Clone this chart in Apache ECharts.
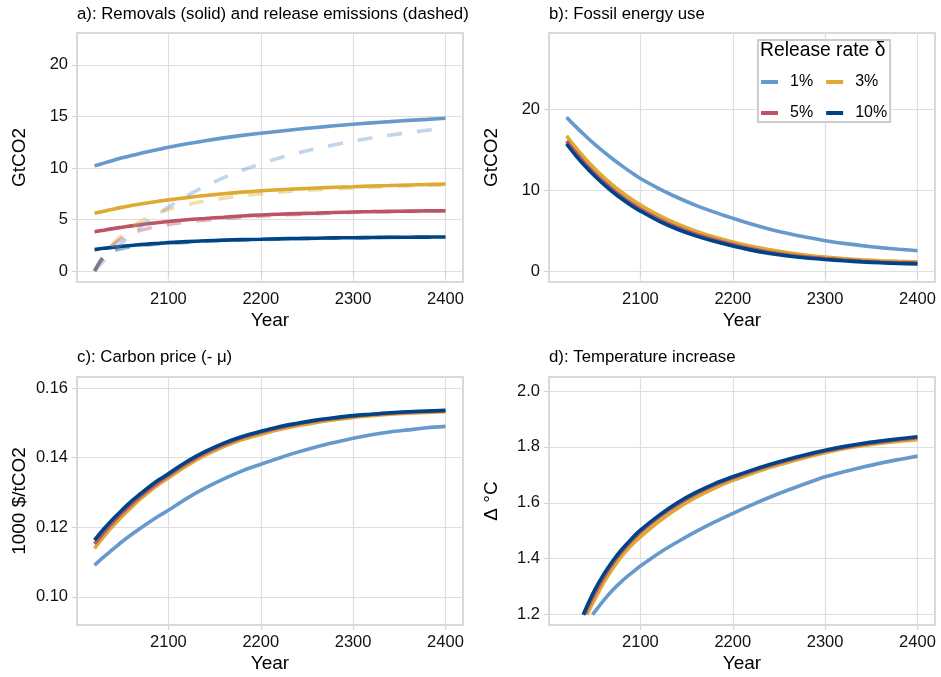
<!DOCTYPE html>
<html><head><meta charset="utf-8">
<script src="https://cdn.jsdelivr.net/npm/echarts@6/dist/echarts.min.js"></script>
<style>html,body{margin:0;padding:0;background:#fff}#c{width:941px;height:677px}</style>
</head><body><div id="c"></div>
<script>
// ---------- data ----------
const rates = ['1%', '3%', '5%', '10%'];
const years = [2020,2030,2040,2050,2060,2070,2080,2090,2100,2120,2140,2160,2180,2200,2220,2240,2260,2280,2300,2320,2340,2360,2380,2400];
const xTickValues = [2100, 2200, 2300, 2400];

// a) removals (solid) and release emissions (dashed), GtCO2
const removals1  = [10.2,10.47,10.73,10.98,11.21,11.42,11.62,11.81,12.0,12.34,12.65,12.92,13.16,13.37,13.57,13.76,13.93,14.09,14.24,14.38,14.5,14.62,14.72,14.82];
const removals3  = [5.6,5.8,6.0,6.18,6.35,6.5,6.65,6.78,6.9,7.12,7.32,7.5,7.65,7.78,7.88,7.97,8.05,8.12,8.18,8.25,8.3,8.35,8.4,8.45];
const removals5  = [3.8,3.96,4.11,4.25,4.38,4.5,4.61,4.71,4.8,4.97,5.1,5.22,5.34,5.44,5.51,5.57,5.62,5.68,5.73,5.76,5.79,5.81,5.83,5.85];
const removals10 = [2.07,2.2,2.3,2.4,2.48,2.56,2.63,2.69,2.75,2.85,2.93,2.99,3.04,3.08,3.12,3.15,3.18,3.21,3.23,3.25,3.27,3.28,3.29,3.3];
const release1  = [0,0.98,1.90,2.75,3.54,4.28,4.96,5.60,6.20,7.29,8.23,9.06,9.78,10.41,10.96,11.45,11.87,12.25,12.6,12.9,13.18,13.43,13.66,13.86];
const release3  = [0,1.48,2.62,3.52,4.24,4.81,5.27,5.65,5.96,6.43,6.79,7.07,7.30,7.49,7.64,7.77,7.88,7.98,8.06,8.13,8.2,8.26,8.31,8.36];
const release5  = [0,1.53,2.51,3.17,3.62,3.94,4.18,4.37,4.52,4.75,4.93,5.07,5.2,5.32,5.42,5.49,5.56,5.61,5.67,5.72,5.75,5.78,5.8,5.83];
const release10 = [0,1.35,1.92,2.19,2.35,2.46,2.54,2.62,2.68,2.78,2.88,2.95,3.01,3.05,3.09,3.13,3.16,3.19,3.22,3.24,3.26,3.27,3.28,3.29];
const yTicksA = [0, 5, 10, 15, 20];

// b) fossil energy use, GtCO2
const fossil1  = [19.0,17.84,16.75,15.72,14.76,13.86,13.01,12.21,11.45,10.21,9.12,8.16,7.32,6.57,5.86,5.23,4.69,4.22,3.81,3.48,3.2,2.96,2.76,2.58];
const fossil3  = [16.7,15.25,13.93,12.73,11.64,10.65,9.75,8.94,8.2,6.92,5.86,4.99,4.27,3.65,3.12,2.68,2.33,2.03,1.79,1.6,1.45,1.34,1.27,1.22];
const fossil5  = [16.05,14.63,13.31,12.13,11.07,10.09,9.22,8.42,7.71,6.47,5.44,4.61,3.92,3.33,2.81,2.39,2.06,1.8,1.6,1.43,1.29,1.18,1.1,1.05];
const fossil10 = [15.7,14.28,12.99,11.82,10.76,9.8,8.94,8.15,7.45,6.22,5.22,4.4,3.73,3.15,2.65,2.24,1.92,1.68,1.5,1.34,1.2,1.09,1.01,0.95];
const yTicksB = [0, 10, 20];

// c) carbon price, 1000 $/tCO2
const price1  = [0.1091,0.1115,0.1137,0.1159,0.1179,0.1198,0.1216,0.1233,0.1249,0.1283,0.1313,0.1339,0.1362,0.1381,0.1399,0.1416,0.1431,0.1444,0.1456,0.1466,0.1474,0.1480,0.1486,0.1490];
const price3  = [0.1139,0.1173,0.1204,0.1232,0.1258,0.1282,0.1304,0.1324,0.1342,0.1377,0.1407,0.1432,0.1452,0.1467,0.1481,0.1492,0.1501,0.1509,0.1516,0.1521,0.1525,0.1528,0.1530,0.1532];
const price5  = [0.1152,0.1185,0.1215,0.1242,0.1267,0.1290,0.1311,0.1331,0.1349,0.1384,0.1414,0.1438,0.1458,0.1473,0.1486,0.1497,0.1506,0.1513,0.1519,0.1524,0.1528,0.1531,0.1533,0.1535];
const price10 = [0.1163,0.1195,0.1224,0.1250,0.1275,0.1297,0.1318,0.1337,0.1354,0.1389,0.1418,0.1442,0.1461,0.1476,0.1489,0.1499,0.1508,0.1515,0.1521,0.1525,0.1529,0.1532,0.1534,0.1536];
const yTicksC = [0.10, 0.12, 0.14, 0.16];

// d) temperature increase, °C (curves enter the panel at 1.2 °C)
const tempYears = [2050,2060,2070,2080,2090,2100,2120,2140,2160,2180,2200,2220,2240,2260,2280,2300,2320,2340,2360,2380,2400];
const tempStartYear = [2048, 2042, 2039.5, 2038];
const tempStartValue = [1.2, 1.2, 1.2, 1.2];
const temp1  = [1.208,1.25,1.288,1.32,1.348,1.374,1.42,1.46,1.497,1.531,1.562,1.592,1.62,1.646,1.67,1.693,1.711,1.727,1.742,1.755,1.767];
const temp3  = [1.252,1.313,1.365,1.41,1.447,1.478,1.533,1.58,1.619,1.652,1.680,1.704,1.726,1.745,1.763,1.779,1.793,1.804,1.813,1.82,1.826];
const temp5  = [1.272,1.332,1.383,1.426,1.463,1.495,1.549,1.594,1.632,1.663,1.689,1.712,1.733,1.752,1.769,1.785,1.798,1.809,1.818,1.826,1.833];
const temp10 = [1.285,1.343,1.392,1.434,1.470,1.502,1.555,1.600,1.637,1.668,1.693,1.716,1.737,1.756,1.773,1.788,1.801,1.812,1.821,1.829,1.836];
const yTicksD = [1.2, 1.4, 1.6, 1.8, 2.0];

// ---------- style ----------
const colors = ['#6699CC', '#DDAA33', '#BB5566', '#004488'];
const FONT = "'Liberation Sans', Arial, Helvetica, sans-serif";
const GRID_COLOR = '#dedede';
const TXT = '#111111';

const removals = [removals1, removals3, removals5, removals10];
const releases = [release1, release3, release5, release10];
const fossil = [fossil1, fossil3, fossil5, fossil10];
const price = [price1, price3, price5, price10];
const temp = [temp1, temp3, temp5, temp10];

const grids = [
  {left: 77, top: 33, width: 386, height: 249},
  {left: 549, top: 33, width: 386, height: 249},
  {left: 77, top: 377, width: 386, height: 248},
  {left: 549, top: 377, width: 386, height: 248}
].map(g => Object.assign(g, {show: true, borderColor: '#d9d9d9', borderWidth: 2, backgroundColor: 'transparent', containLabel: false}));

function xAxis(i) {
  return {
    type: 'value', gridIndex: i, min: 2001, max: 2419, minInterval: 100, maxInterval: 100,
    name: 'Year', nameLocation: 'middle', nameGap: 29,
    nameTextStyle: {fontSize: 19, color: '#000', fontFamily: FONT},
    axisLine: {show: false},
    axisTick: {show: true, length: 5, lineStyle: {color: '#d4d4d4', width: 1.2}, customValues: xTickValues},
    axisLabel: {fontSize: 16.5, color: TXT, fontFamily: FONT, margin: 9, customValues: xTickValues,
      formatter: v => String(v)},
    splitLine: {show: true, lineStyle: {color: GRID_COLOR, width: 1.2}}
  };
}
function yAxis(i, min, max, step, ticks, name, dec) {
  return {
    type: 'value', gridIndex: i, min: min, max: max, minInterval: step, maxInterval: step,
    name: name, nameLocation: 'middle', nameGap: 48,
    nameTextStyle: {fontSize: 19, color: '#000', fontFamily: FONT},
    axisLine: {show: false},
    axisTick: {show: true, length: 5, lineStyle: {color: '#d4d4d4', width: 1.2}, customValues: ticks},
    axisLabel: {fontSize: 16.5, color: TXT, fontFamily: FONT, margin: 9, customValues: ticks,
      formatter: v => dec == null ? String(Math.round(v)) : Number(v).toFixed(dec)},
    splitLine: {show: true, lineStyle: {color: GRID_COLOR, width: 1.2}}
  };
}

const series = [];
function lineSeries(i, name, color, data, dashed) {
  return {
    type: 'line', name: name, xAxisIndex: i, yAxisIndex: i, data: data,
    showSymbol: false, symbol: 'none', smooth: 0.35,
    color: color, animation: false, silent: true,
    lineStyle: {color: color, width: 3.6, opacity: dashed ? 0.4 : 1, type: dashed ? [15, 15] : 'solid', cap: 'butt'},
    z: dashed ? 3 : 2
  };
}
rates.forEach((r, k) => series.push(lineSeries(0, r, colors[k], years.map((y, j) => [y, removals[k][j]]), false)));
rates.forEach((r, k) => series.push(lineSeries(0, r, colors[k], years.map((y, j) => [y, releases[k][j]]), true)));
rates.forEach((r, k) => series.push(lineSeries(1, r, colors[k], years.map((y, j) => [y, fossil[k][j]]), false)));
rates.forEach((r, k) => series.push(lineSeries(2, r, colors[k], years.map((y, j) => [y, price[k][j]]), false)));
rates.forEach((r, k) => series.push(lineSeries(3, r, colors[k],
  [[tempStartYear[k], tempStartValue[k]]].concat(tempYears.map((y, j) => [y, temp[k][j]])), false)));

const titleStyle = {fontSize: 16.8, fontWeight: 'normal', color: '#000', fontFamily: FONT};
const option = {
  backgroundColor: '#ffffff',
  animation: false,
  textStyle: {fontFamily: FONT},
  title: [
    {text: 'a): Removals (solid) and release emissions (dashed)', left: 77, top: 6, padding: 0, textStyle: titleStyle},
    {text: 'b): Fossil energy use', left: 549, top: 6, padding: 0, textStyle: titleStyle},
    {text: 'c): Carbon price (- μ)', left: 77, top: 349, padding: 0, textStyle: titleStyle},
    {text: 'd): Temperature increase', left: 549, top: 349, padding: 0, textStyle: titleStyle},
    {text: 'Release rate δ', left: 760, top: 41, padding: 0, z: 10,
      textStyle: {fontSize: 19.3, fontWeight: 'normal', color: '#000', fontFamily: FONT}}
  ],
  legend: {
    data: rates, left: 758, top: 40, width: 128, orient: 'horizontal',
    padding: [33, 3, 0, 3], itemGap: 13, itemWidth: 17, itemHeight: 4, icon: 'rect',
    backgroundColor: '#ffffff', borderColor: '#cccccc', borderWidth: 2, borderRadius: 0,
    selectedMode: false, z: 8,
    textStyle: {fontSize: 16, color: '#000', fontFamily: FONT, padding: [0, 0, 0, 7], lineHeight: 18}
  },
  grid: grids,
  xAxis: [xAxis(0), xAxis(1), xAxis(2), xAxis(3)],
  yAxis: [
    yAxis(0, -1.07, 23.1, 5, yTicksA, 'GtCO2', null),
    yAxis(1, -1.27, 29.35, 10, yTicksB, 'GtCO2', null),
    yAxis(2, 0.0919, 0.1632, 0.02, yTicksC, '1000 $/tCO2', 2),
    yAxis(3, 1.163, 2.05, 0.2, yTicksD, 'Δ °C', 1)
  ],
  series: series
};
const chart = echarts.init(document.getElementById('c'), null, {renderer: 'canvas'});
chart.setOption(option);
</script></body></html>
